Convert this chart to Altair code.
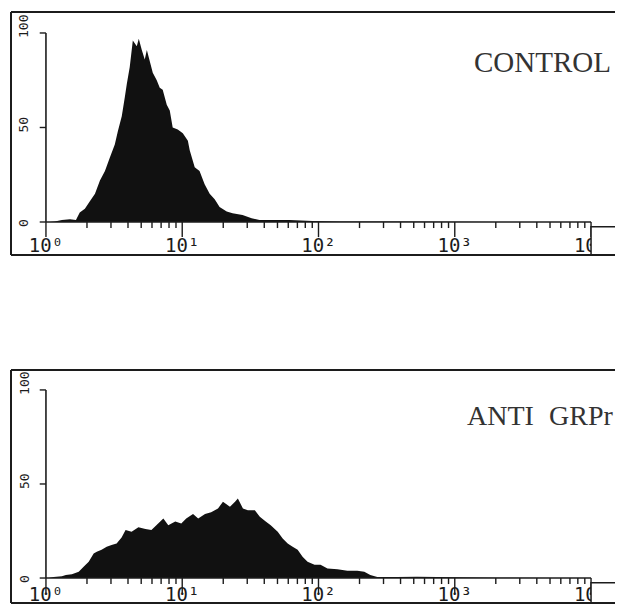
import altair as alt
import pandas as pd

# ---------------- data ----------------
# CONTROL histogram: fluorescence intensity (log axis) and relative cell count
ctrl_fl = [1.07, 1.16, 1.31, 1.50, 1.66, 1.77, 1.93, 2.10, 2.29, 2.49, 2.71, 2.94,
           3.20, 3.37, 3.60, 3.79, 3.92, 4.12, 4.34, 4.64, 4.80, 5.05, 5.31, 5.50,
           5.78, 6.08, 6.50, 6.84, 7.19, 7.70, 8.10, 8.51, 9.27, 10.1, 11.0, 11.35,
           12.35, 13.4, 14.6, 15.9, 17.3, 18.8, 21.2, 23.4, 27.7, 32.3, 36.9, 46.0,
           61.3, 90.4, 143, 390, 910, 2130]
ctrl_count = [0, 0.3, 1, 1.5, 1, 5, 7, 11, 15, 22, 27, 34,
              41, 48, 56, 66, 73, 82, 96, 93, 97, 91, 86, 91,
              85, 79, 75, 71, 70, 62, 59, 50, 49, 47, 43, 38,
              29, 27, 20, 15, 12, 8, 5.5, 4.6, 3.7, 2, 1, 1,
              1, 0.5, 0.3, 0.2, 0.1, 0]

# ANTI GRPr histogram
anti_fl = [1.05, 1.14, 1.31, 1.40, 1.55, 1.74, 1.89, 2.06, 2.24, 2.36, 2.56, 2.79,
           3.03, 3.30, 3.59, 3.84, 4.25, 4.77, 5.37, 5.94, 6.46, 7.27, 7.90, 8.89,
           9.84, 10.7, 12.0, 13.1, 14.7, 16.3, 18.3, 19.9, 22.4, 24.4, 25.6, 27.9,
           30.3, 34.1, 37.1, 41.0, 44.6, 50.2, 54.6, 59.4, 64.6, 70.3, 76.4, 83.1,
           93.5, 103.5, 116.4, 137.7, 162.9, 192.6, 216.8, 239.9, 269.9, 377, 528, 1035,
           2027, 5554]
anti_count = [0, 0.5, 1, 1.6, 2, 3.4, 6, 8.7, 13, 14, 15, 16.6,
              17.5, 18.4, 21.6, 25.5, 24.6, 27, 26, 25.5, 28, 31.7, 28, 30,
              29, 31.7, 34, 31.7, 34, 35, 37, 40.5, 37.9, 40.5, 42.3, 37,
              36, 36, 32.6, 30, 28, 24.6, 21, 18.4, 16.6, 15, 11.3, 8.7,
              7, 7, 5, 4.6, 3.9, 3.9, 3.4, 1.6, 0.5, 0.5, 0.7, 0.4,
              0.2, 0]

# axis ticks and labels
decades = [1, 10, 100, 1000, 10000]
decade_labels = ["10\u2070", "10\u00b9", "10\u00b2", "10\u00b3", "10\u2074"]
minor_ticks = [k * d for d in [1, 10, 100, 1000] for k in range(2, 10)]
y_ticks = [0, 50, 100]
y_labels = ["0", "50", "100"]

# ---------------- styling ----------------
INK = "#1c1c1c"
FILL = "#111111"
XDOM = [0.554, 14990]
W = 604
MONO = "DejaVu Sans Mono"
SERIF = "Liberation Serif"

one = pd.DataFrame({"k": [0]})


def panel(fl, cnt, words, ydom, height, ylab_dy, lab_dy, title_size):
    xs = alt.Scale(type="log", domain=XDOM, nice=False)
    ys = alt.Scale(domain=ydom, nice=False, zero=False)

    hist = alt.Chart(pd.DataFrame({"fl": fl, "count": cnt})).mark_area(
        color=FILL, interpolate="linear"
    ).encode(
        x=alt.X("fl:Q", scale=xs, axis=None),
        y=alt.Y("count:Q", scale=ys, axis=None),
        y2=alt.datum(0),
    )

    # axis lines
    x_axis = alt.Chart(one).mark_rule(color=INK, strokeWidth=1.6).encode(
        x=alt.datum(1), x2=alt.datum(10000), y=alt.datum(0))
    y_axis = alt.Chart(one).mark_rule(color=INK, strokeWidth=1.6).encode(
        x=alt.datum(1), y=alt.datum(0), y2=alt.datum(100))

    # ticks
    minor = alt.Chart(pd.DataFrame({"t": minor_ticks})).mark_rule(
        color=INK, strokeWidth=1.4).encode(
        x="t:Q", y=alt.datum(0), y2=alt.datum(-3.2))
    major = alt.Chart(pd.DataFrame({"t": decades})).mark_rule(
        color=INK, strokeWidth=1.4).encode(
        x="t:Q", y=alt.datum(0), y2=alt.datum(-8.0))
    yt = alt.Chart(pd.DataFrame({"v": y_ticks})).mark_rule(
        color=INK, strokeWidth=1.4).encode(
        y="v:Q", x=alt.datum(1), x2=alt.datum(0.9))

    # tick labels
    xlab = alt.Chart(pd.DataFrame({"t": decades, "lab": decade_labels})).mark_text(
        font=MONO, fontSize=19, align="center", baseline="alphabetic",
        dy=lab_dy, color=INK).encode(x="t:Q", y=alt.datum(0), text="lab:N")
    ylab = alt.Chart(pd.DataFrame({"v": y_ticks, "lab": y_labels})).mark_text(
        font=MONO, fontSize=13, angle=270, align="left", baseline="middle",
        dx=-5, dy=ylab_dy, color=INK, clip=True
    ).encode(x=alt.datum(1), y="v:Q", text="lab:N")

    # box at the lower right (covers end of the axis)
    corner = alt.Chart(one).mark_rect(
        fill="white", stroke=INK, strokeWidth=1.5, clip=True).encode(
        x=alt.datum(10000), x2=alt.datum(40000),
        y=alt.datum(-2.5), y2=alt.datum(ydom[0] - 5))

    # frame lines (top, bottom, left)
    frame_top = alt.Chart(one).mark_rule(color=INK, strokeWidth=2).encode(
        x=alt.datum(XDOM[0]), x2=alt.datum(XDOM[1]), y=alt.datum(ydom[1]))
    frame_bot = alt.Chart(one).mark_rule(color=INK, strokeWidth=2).encode(
        x=alt.datum(XDOM[0]), x2=alt.datum(XDOM[1]), y=alt.datum(ydom[0]))
    frame_left = alt.Chart(one).mark_rule(color=INK, strokeWidth=2).encode(
        x=alt.datum(XDOM[0]), y=alt.datum(ydom[0]), y2=alt.datum(ydom[1]))

    layers = [hist, x_axis, y_axis, minor, major, yt, xlab, ylab, corner,
              frame_top, frame_bot, frame_left]
    for text, px, py in words:
        layers.append(alt.Chart(one).mark_text(
            text=text, font=SERIF, fontSize=title_size, align="left",
            baseline="alphabetic", color="#333333", clip=True
        ).encode(x=alt.value(px), y=alt.value(py)))

    return alt.layer(*layers).properties(width=W, height=height)


top = panel(ctrl_fl, ctrl_count, [("CONTROL", 463, 60)],
            [-17.46, 111.1], 243, -22, 30, 29)
bottom = panel(anti_fl, anti_count, [("ANTI", 456, 55), ("GRPr", 538, 55)],
               [-13.28, 110.6], 233, -21, 23, 28)

chart = alt.vconcat(top, bottom, spacing=113).properties(
    padding={"left": 2, "top": 3, "right": 0, "bottom": 0}
).configure_view(stroke=None)

chart.save("out.html", embed_options={"renderer": "svg", "actions": False})
